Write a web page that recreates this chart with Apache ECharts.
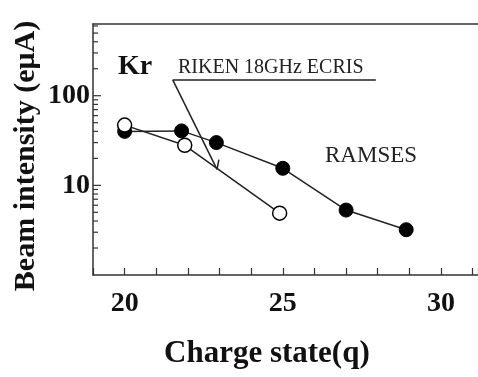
<!DOCTYPE html>
<html>
<head>
<meta charset="utf-8">
<script src="https://cdn.jsdelivr.net/npm/echarts@6/dist/echarts.min.js"></script>
<style>
html,body{margin:0;padding:0;background:#fff;}
#c{width:478px;height:377px;}
</style>
</head>
<body>
<div id="c"></div>
<script>
// Data
var ramsesQ = [20, 21.8, 22.9, 25, 27, 28.9];
var ramsesI = [40, 40.5, 30, 15.5, 5.3, 3.2];
var rikenQ = [20, 21.9, 24.9];
var rikenI = [47, 28, 4.9];
var xLabels = [20, 25, 30];
var yLabels = [10, 100];
var yMinorTicks = [2,3,4,5,6,7,8,9,20,30,40,50,60,70,80,90,200,300,400,500,600];
var yMajorTicks = [10, 100];
var xMin = 19, xMax = 31.17, yMin = 1, yMax = 631;
// annotation leader line (data coords)
var leader = [[21.52, 150], [27.94, 150]];
var pointer = [[21.52, 150], [22.92, 15.1]];
var barb = [[22.98, 19.4], [22.92, 15.1]];

var SERIF = '"Liberation Serif","DejaVu Serif",serif';
var INK = '#222';
var GL = 93, W = 478;

function pairs(xs, ys){ return xs.map(function(x,i){ return [x, ys[i]]; }); }

var chart = echarts.init(document.getElementById('c'));
chart.setOption({
  animation: false,
  backgroundColor: '#fff',
  grid: {left: GL, top: 24, bottom: 102, right: 0},
  xAxis: [{
    type: 'value', min: xMin, max: xMax, interval: 1,
    axisLine: {lineStyle: {color: '#333', width: 1.5}},
    axisTick: {inside: true, length: 7, lineStyle: {color: '#333', width: 1.2}},
    axisLabel: {customValues: xLabels, margin: 15, fontFamily: SERIF, fontWeight: 'bold', fontSize: 28, color: '#111'},
    splitLine: {show: false}
  }, {
    type: 'value', min: xMin, max: xMax, position: 'top',
    axisLine: {show: true, onZero: false, lineStyle: {color: '#333', width: 1.5}},
    axisTick: {show: false}, axisLabel: {show: false}, splitLine: {show: false}
  }],
  yAxis: [{
    type: 'log', min: yMin, max: yMax, logBase: 10, position: 'left',
    axisLine: {show: true, lineStyle: {color: '#333', width: 1.5}},
    axisTick: {show: false},
    axisLabel: {customValues: yLabels, margin: 3, fontFamily: SERIF, fontWeight: 'bold', fontSize: 28, color: '#111'},
    splitLine: {show: false}
  }],
  series: [{
    name: 'RAMSES', type: 'line', data: pairs(ramsesQ, ramsesI),
    symbol: 'circle', symbolSize: 14,
    lineStyle: {color: INK, width: 1.5},
    itemStyle: {color: '#000', borderColor: '#000', borderWidth: 1},
    z: 3
  }, {
    name: 'RIKEN', type: 'line', data: pairs(rikenQ, rikenI),
    symbol: 'circle', symbolSize: 14,
    lineStyle: {color: INK, width: 1.5},
    itemStyle: {color: '#fff', borderColor: '#000', borderWidth: 1.5},
    z: 4,
    markLine: {
      silent: true, symbol: ['none', 'none'], animation: false,
      lineStyle: {color: INK, width: 1.5, type: 'solid'},
      label: {show: false},
      data: [
        [{coord: leader[0]}, {coord: leader[1]}],
        [{coord: pointer[0]}, {coord: pointer[1]}],
        [{coord: barb[0]}, {coord: barb[1]}]
      ]
    }
  }]
});

// Y-axis log ticks and text annotations, positioned through the chart's own scales
function addOverlay(){
  var els = [];
  function tick(v, len){
    var p = chart.convertToPixel({xAxisIndex: 0, yAxisIndex: 0}, [xMin, v]);
    els.push({type: 'line', silent: true, z: 50,
      shape: {x1: GL, y1: p[1], x2: GL + len, y2: p[1]},
      style: {stroke: '#333', lineWidth: 1.2}});
  }
  yMinorTicks.forEach(function(v){ tick(v, 5); });
  yMajorTicks.forEach(function(v){ tick(v, 8); });
  els.push({type: 'text', left: 118, top: 53, style: {text: 'Kr', font: 'bold 28px ' + SERIF, fill: '#111'}});
  els.push({type: 'text', left: 178, top: 58, style: {text: 'RIKEN 18GHz ECRIS', font: '20px ' + SERIF, fill: '#222'}});
  els.push({type: 'text', left: 325, top: 144, style: {text: 'RAMSES', font: '23px ' + SERIF, fill: '#222'}});
  els.push({type: 'text', left: 164, top: 338, style: {text: 'Charge state(q)', font: 'bold 31px ' + SERIF, fill: '#111'}});
  els.push({type: 'text', x: 26, y: 156, rotation: Math.PI / 2,
    style: {text: 'Beam intensity (eμA)', font: 'bold 30px ' + SERIF, fill: '#111', align: 'center', verticalAlign: 'middle'}});
  chart.setOption({graphic: els});
}
addOverlay();
</script>
</body>
</html>
